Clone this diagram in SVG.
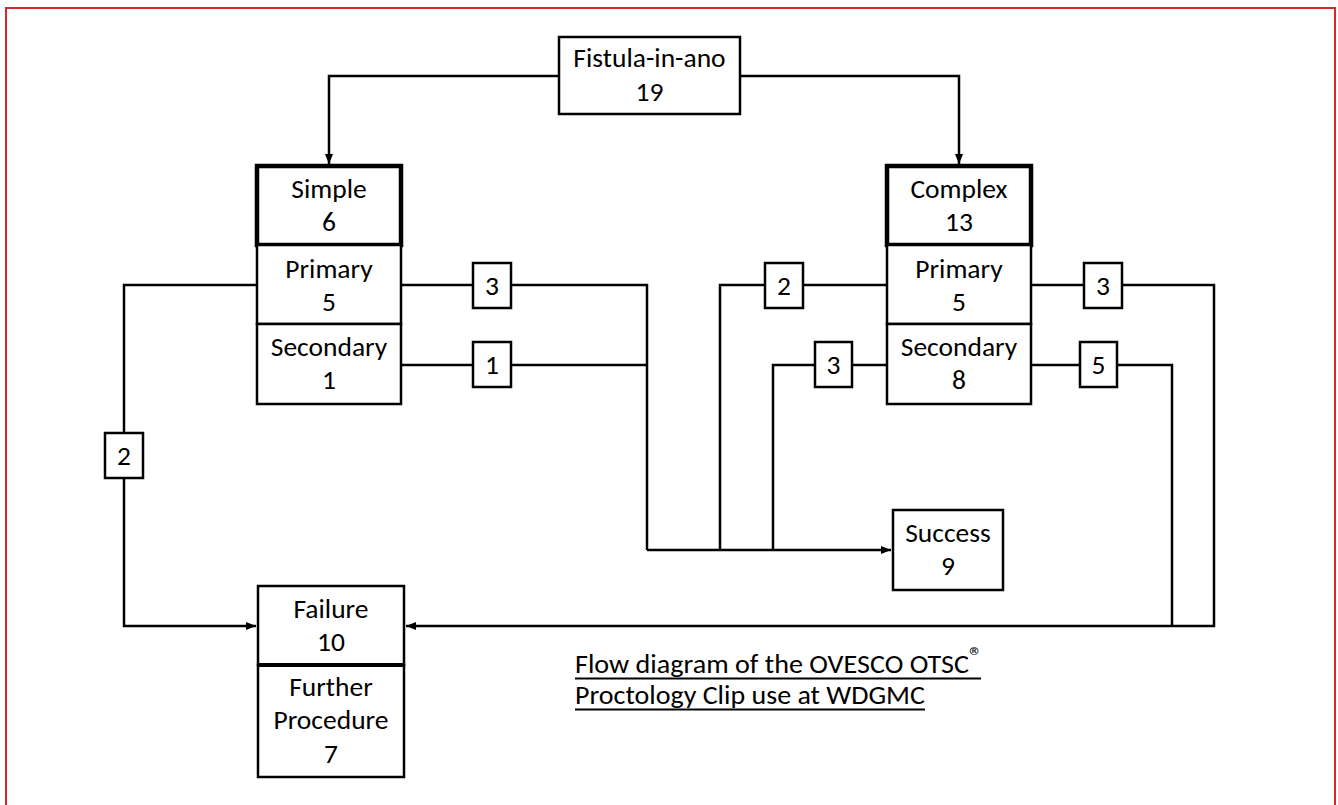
<svg xmlns="http://www.w3.org/2000/svg" width="1338" height="805" viewBox="0 0 1338 805">
<defs>
<marker id="arr" viewBox="0 0 10 10" refX="10" refY="5" markerWidth="10" markerHeight="10" markerUnits="userSpaceOnUse" orient="auto">
<path d="M0,1 L10,5 L0,9 Z" fill="#000"/>
</marker>
<style>
.t{font-family:Carlito,Calibri,Lato,"Liberation Sans",sans-serif;font-size:27.5px;fill:#000;text-anchor:middle}
.box{fill:#fff;stroke:#000;stroke-width:2.5}
.thick{fill:#fff;stroke:#000;stroke-width:4.5}
.lbl{fill:#fff;stroke:#000;stroke-width:2.5}
.ln{fill:none;stroke:#000;stroke-width:2.5}
.cap{font-family:Carlito,Calibri,Lato,"Liberation Sans",sans-serif;font-size:27.5px;fill:#000}
.ul{stroke:#000;stroke-width:1.8}
</style>
</defs>
<rect x="0" y="0" width="1338" height="805" fill="#fff"/>
<rect x="6" y="8" width="1329" height="830" fill="none" stroke="#d8262e" stroke-width="2"/>

<g id="connectors">
<path class="ln" d="M559,76 H329 V164" marker-end="url(#arr)"/>
<path class="ln" d="M740,76 H959 V164" marker-end="url(#arr)"/>
<path class="ln" d="M257,285 H124 V626 H256" marker-end="url(#arr)"/>
<path class="ln" d="M401,285 H647 V550"/>
<path class="ln" d="M401,365 H647"/>
<path class="ln" d="M647,550 H891" stroke-width="3" marker-end="url(#arr)"/>
<path class="ln" d="M887,285 H720 V550"/>
<path class="ln" d="M887,365 H773 V550"/>
<path class="ln" d="M1031,285 H1214 V626 H406" marker-end="url(#arr)"/>
<path class="ln" d="M1031,365 H1172 V626"/>
</g>

<g id="fistula">
<rect class="box" x="559" y="37" width="181" height="77"/>
<text class="t" x="649.5" y="67">Fistula-in-ano</text>
<text class="t" x="649.5" y="101">19</text>
</g>

<g id="simple">
<rect class="thick" x="257" y="166" width="144" height="79"/>
<text class="t" x="329" y="198">Simple</text>
<text class="t" x="329" y="231">6</text>
</g>
<g id="simple-primary">
<rect class="box" x="257" y="245" width="144" height="79"/>
<text class="t" x="329" y="278">Primary</text>
<text class="t" x="329" y="311">5</text>
</g>
<g id="simple-secondary">
<rect class="box" x="257" y="324" width="144" height="80"/>
<text class="t" x="329" y="356">Secondary</text>
<text class="t" x="329" y="389">1</text>
</g>

<g id="complex">
<rect class="thick" x="887" y="166" width="144" height="79"/>
<text class="t" x="959" y="198">Complex</text>
<text class="t" x="959" y="231">13</text>
</g>
<g id="complex-primary">
<rect class="box" x="887" y="245" width="144" height="79"/>
<text class="t" x="959" y="278">Primary</text>
<text class="t" x="959" y="311">5</text>
</g>
<g id="complex-secondary">
<rect class="box" x="887" y="324" width="144" height="80"/>
<text class="t" x="959" y="356">Secondary</text>
<text class="t" x="959" y="389">8</text>
</g>

<g id="label-sp-3">
<rect class="lbl" x="473" y="263" width="38" height="45"/>
<text class="t" x="492" y="295">3</text>
</g>
<g id="label-ss-1">
<rect class="lbl" x="473" y="342" width="38" height="45"/>
<text class="t" x="492" y="374">1</text>
</g>
<g id="label-left-2">
<rect class="lbl" x="105" y="433" width="38" height="45"/>
<text class="t" x="124" y="465">2</text>
</g>
<g id="label-cp-2">
<rect class="lbl" x="765" y="263" width="38" height="45"/>
<text class="t" x="784" y="295">2</text>
</g>
<g id="label-cs-3">
<rect class="lbl" x="815" y="342" width="37" height="45"/>
<text class="t" x="833.5" y="374">3</text>
</g>
<g id="label-cp-3">
<rect class="lbl" x="1084" y="263" width="38" height="45"/>
<text class="t" x="1103" y="295">3</text>
</g>
<g id="label-cs-5">
<rect class="lbl" x="1080" y="342" width="37" height="45"/>
<text class="t" x="1098.5" y="374">5</text>
</g>

<g id="success">
<rect class="box" x="893" y="510" width="110" height="80"/>
<text class="t" x="948" y="542">Success</text>
<text class="t" x="948" y="575">9</text>
</g>

<g id="failure">
<rect class="box" x="258" y="586" width="146" height="79"/>
<text class="t" x="331" y="618">Failure</text>
<text class="t" x="331" y="651">10</text>
</g>
<g id="further">
<rect class="box" x="258" y="665" width="146" height="112"/>
<line x1="258" y1="665" x2="404" y2="665" stroke="#000" stroke-width="4"/>
<text class="t" x="331" y="696">Further</text>
<text class="t" x="331" y="729">Procedure</text>
<text class="t" x="331" y="763">7</text>
</g>

<g id="caption">
<text class="cap" x="575" y="673" textLength="394" lengthAdjust="spacingAndGlyphs">Flow diagram of the OVESCO OTSC</text>
<text class="cap" x="969" y="665" font-size="15">®</text>
<line class="ul" x1="575" y1="678.5" x2="981" y2="678.5"/>
<text class="cap" x="575" y="704" textLength="350" lengthAdjust="spacingAndGlyphs">Proctology Clip use at WDGMC</text>
<line class="ul" x1="575" y1="709.5" x2="925" y2="709.5"/>
</g>
</svg>
